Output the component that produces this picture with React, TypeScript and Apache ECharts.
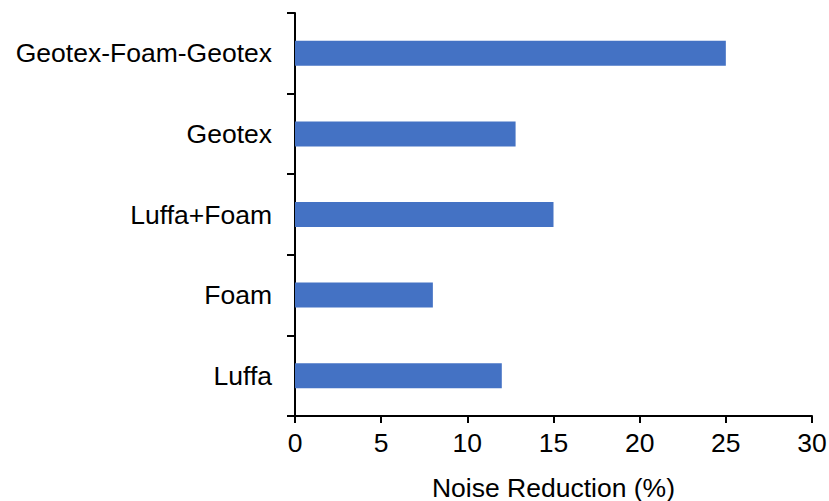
import React, { useEffect, useRef } from "react";
import * as echarts from "echarts";

const categories = ["Luffa", "Foam", "Luffa+Foam", "Geotex", "Geotex-Foam-Geotex"];
const values = [12, 8, 15, 12.8, 25];
const xTicks = { min: 0, max: 30, interval: 5 };
const xAxisTitle = "Noise Reduction (%)";

export default function App() {
  const ref = useRef<HTMLDivElement>(null);
  useEffect(() => {
    if (!ref.current) return;
    const chart = echarts.init(ref.current, undefined, { renderer: "svg" });
    const font = "Liberation Sans, Arial, sans-serif";
    const fs = 26.5;
    chart.setOption({
      animation: false,
      backgroundColor: "#ffffff",
      grid: {
        left: 295,
        right: 17,
        top: 13,
        bottom: 85,
        containLabel: false,
        outerBoundsMode: "none",
      },
      xAxis: {
        type: "value",
        min: xTicks.min,
        max: xTicks.max,
        interval: xTicks.interval,
        name: xAxisTitle,
        nameLocation: "middle",
        nameGap: 58,
        nameTextStyle: { fontFamily: font, fontSize: fs, color: "#000" },
        axisLine: { show: true, lineStyle: { color: "#000", width: 2 } },
        axisTick: { show: true, length: 7, lineStyle: { color: "#000", width: 2 } },
        axisLabel: { fontFamily: font, fontSize: fs, color: "#000", margin: 13 },
        splitLine: { show: false },
      },
      yAxis: {
        type: "category",
        data: categories,
        axisLine: { show: true, lineStyle: { color: "#000", width: 2 } },
        axisTick: { show: true, length: 8, lineStyle: { color: "#000", width: 2 } },
        axisLabel: { fontFamily: font, fontSize: fs, color: "#000", margin: 23 },
        splitLine: { show: false },
      },
      series: [
        {
          type: "bar",
          data: values,
          barWidth: 25,
          itemStyle: { color: "#4472C4" },
        },
      ],
    });
    return () => chart.dispose();
  }, []);
  return (
    <div
      ref={ref}
      style={{ position: "fixed", left: 0, top: 0, width: 829, height: 501 }}
    />
  );
}
